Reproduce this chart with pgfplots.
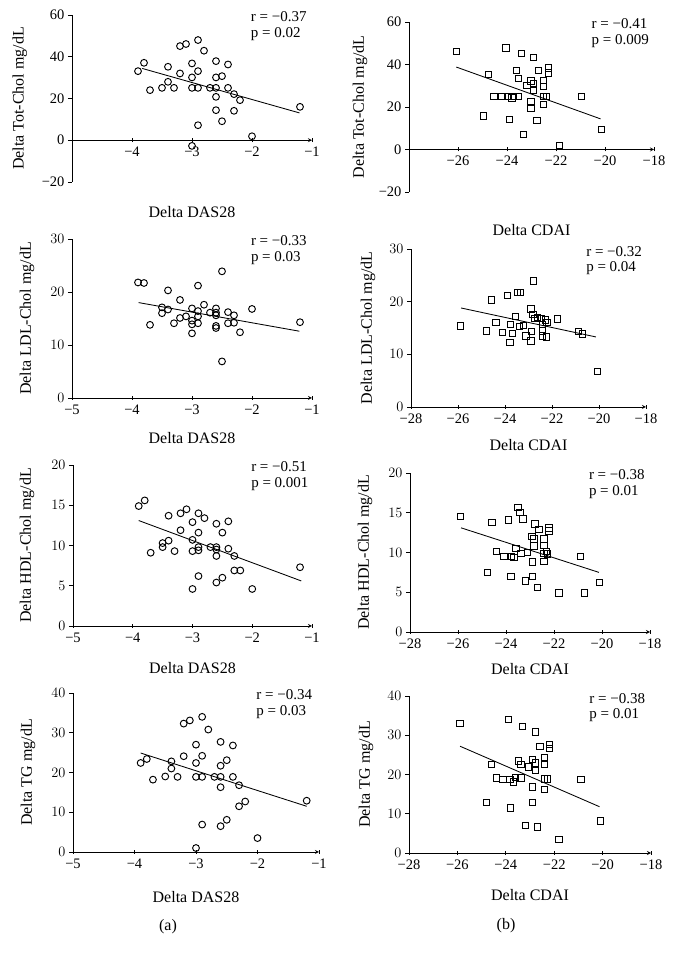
\documentclass[border=0pt]{standalone}
\usepackage{pgfplots}
\pgfplotsset{compat=1.18}
\usepackage{fontspec}
\setmainfont{Liberation Serif}
\newcommand{\lf}{\fontsize{16bp}{19bp}\selectfont}
\pgfplotsset{
  panel/.style={
    scale only axis, anchor=south west, clip=false,
    axis y line=left, axis line style={-, black, line width=0.8bp},
    tick align=outside, major tick length=4bp,
    tick style={black, line width=0.8bp},
    tick label style={font=\fontsize{14.5bp}{17bp}\selectfont},
    xticklabel style={yshift=-1bp},
    label style={font=\lf},
    ylabel style={anchor=center}, xlabel style={anchor=center},
  },
  circ/.style={only marks, mark=o, mark size=3.4bp, black, mark options={line width=0.95bp}},
  sq/.style={only marks, mark=square, mark size=3.2bp, black, mark options={line width=0.95bp}},
  reg/.style={black, line width=0.85bp, no marks},
}
\newcommand{\rp}[2]{\node[anchor=north west, inner sep=0pt, align=left, font=\fontsize{15bp}{15.5bp}\selectfont] at (axis description cs:0.745,1.02) {r = #1\\p = #2};}
\begin{document}
\begin{tikzpicture}
\path[use as bounding box] (0,0) rectangle (677bp,958bp);
% ---------- 1L
\begin{axis}[panel, at={(72bp,776bp)}, width=240bp, height=167bp,
  axis x line=middle, xmin=-5, xmax=-1, ymin=-20, ymax=60,
  xtick={-4,-3,-2,-1}, xticklabels={−4,−3,−2,−1},
  ytick={-20,0,20,40,60}, yticklabels={−20,0,20,40,60},
  xlabel={Delta DAS28}, ylabel={Delta Tot-Chol mg/dL},
  xlabel style={at={(axis description cs:0.5,-0.18)}, anchor=center, font=\lf},
  ylabel style={at={(axis description cs:-0.217,0.5)}}]
\addplot[circ] coordinates {(-3.9,33.1) (-3.8,37.1) (-3.7,24.0) (-3.5,25.1) (-3.4,35.2) (-3.4,28.0) (-3.3,25.1) (-3.2,32.0) (-3.2,45.1) (-3.1,46.1) (-3.0,36.8) (-3.0,30.1) (-3.0,25.1) (-3.0,-2.7) (-2.9,48.0) (-2.9,33.1) (-2.9,25.1) (-2.9,7.2) (-2.8,42.9) (-2.7,25.1) (-2.6,37.9) (-2.6,30.1) (-2.6,25.1) (-2.6,20.8) (-2.6,14.4) (-2.5,30.7) (-2.5,9.1) (-2.4,36.3) (-2.4,25.1) (-2.3,22.1) (-2.3,14.1) (-2.2,19.2) (-2.0,1.9) (-1.2,16.0)};
\addplot[reg] coordinates {(-3.83,34.4) (-1.21,13.1)};
\rp{−0.37}{0.02}
\end{axis}
% ---------- 1R
\begin{axis}[panel, at={(409bp,766bp)}, width=245bp, height=170bp,
  axis x line=middle, xmin=-28, xmax=-18, ymin=-20, ymax=60,
  xtick={-26,-24,-22,-20,-18}, xticklabels={−26,−24,−22,−20,−18},
  ytick={-20,0,20,40,60}, yticklabels={−20,0,20,40,60},
  xlabel={Delta CDAI}, ylabel={Delta Tot-Chol mg/dL},
  xlabel style={at={(axis description cs:0.5,-0.224)}, anchor=center, font=\lf},
  ylabel style={at={(axis description cs:-0.2,0.5)}}]
\addplot[sq] coordinates {(-26.07,46.2) (-24.95,15.7) (-24.75,35.3) (-24.53,25) (-24.22,25) (-24.04,47.7) (-23.94,25) (-23.9,14.1) (-23.8,24.2) (-23.73,25) (-23.61,37.2) (-23.52,33.3) (-23.52,25) (-23.42,45.1) (-23.33,7.1) (-23.19,30.2) (-23.02,32.2) (-23.02,22.6) (-23.02,19.2) (-22.91,43.2) (-22.91,30.9) (-22.91,28.1) (-22.77,13.7) (-22.72,37.2) (-22.51,32.5) (-22.51,29.7) (-22.51,25) (-22.51,21.2) (-22.4,25) (-22.31,38.3) (-22.31,36) (-21.87,1.9) (-20.95,25) (-20.15,9.3)};
\addplot[reg] coordinates {(-26.07,38.8) (-20.18,14.4)};
\rp{−0.41}{0.009}
\end{axis}
% ---------- 2L
\begin{axis}[panel, at={(72bp,560bp)}, width=240bp, height=159bp,
  axis x line=bottom, xmin=-5, xmax=-1, ymin=0, ymax=30,
  xtick={-5,-4,-3,-2,-1}, xticklabels={−5,−4,−3,−2,−1},
  ytick={0,10,20,30},
  xlabel={Delta DAS28}, ylabel={Delta LDL-Chol mg/dL},
  xlabel style={at={(axis description cs:0.5,-0.25)}},
  ylabel style={at={(axis description cs:-0.1875,0.5)}}]
\addplot[circ] coordinates {(-3.9,21.8) (-3.8,21.7) (-3.7,13.8) (-3.5,17.1) (-3.5,16.0) (-3.4,20.3) (-3.4,16.7) (-3.3,14.1) (-3.2,18.5) (-3.2,15.1) (-3.1,15.4) (-3.0,16.9) (-3.0,14.6) (-3.0,13.9) (-3.0,12.2) (-2.9,21.2) (-2.9,16.4) (-2.9,15.4) (-2.9,14.1) (-2.8,17.6) (-2.7,16.1) (-2.6,16.9) (-2.6,16.1) (-2.6,15.6) (-2.6,13.6) (-2.6,13.2) (-2.5,23.9) (-2.5,6.9) (-2.4,16.2) (-2.4,14.1) (-2.3,15.6) (-2.3,14.2) (-2.2,12.4) (-2.0,16.8) (-1.2,14.3)};
\addplot[reg] coordinates {(-3.89,18.0) (-1.21,12.6)};
\rp{−0.33}{0.03}
\end{axis}
% ---------- 2R
\begin{axis}[panel, at={(411bp,551bp)}, width=235bp, height=158bp,
  axis x line=bottom, xmin=-28, xmax=-18, ymin=0, ymax=30,
  xtick={-28,-26,-24,-22,-20,-18}, xticklabels={−28,−26,−24,−22,−20,−18},
  ytick={0,10,20,30},
  xlabel={Delta CDAI}, ylabel={Delta LDL-Chol mg/dL},
  xlabel style={at={(axis description cs:0.5,-0.24)}},
  ylabel style={at={(axis description cs:-0.183,0.5)}}]
\addplot[sq] coordinates {(-25.9,15.4) (-24.78,14.4) (-24.58,20.3) (-24.38,16.1) (-24.1,14.2) (-23.89,21.2) (-23.79,12.2) (-23.77,15.7) (-23.69,14.0) (-23.56,17.2) (-23.46,21.8) (-23.35,21.8) (-23.39,15.3) (-23.21,15.5) (-23.11,13.5) (-22.89,18.6) (-22.89,12.5) (-22.87,14.3) (-22.81,17.6) (-22.78,23.9) (-22.75,16.8) (-22.61,17.0) (-22.44,16.8) (-22.41,15.7) (-22.41,14.4) (-22.41,13.5) (-22.27,16.5) (-22.24,13.3) (-22.21,16.0) (-21.76,16.7) (-20.88,14.3) (-20.7,13.9) (-20.06,6.8)};
\addplot[reg] coordinates {(-25.87,18.8) (-20.13,13.3)};
\rp{−0.32}{0.04}
\end{axis}
% ---------- 3L
\begin{axis}[panel, at={(73bp,332bp)}, width=239bp, height=161bp,
  axis x line=bottom, xmin=-5, xmax=-1, ymin=0, ymax=20,
  xtick={-5,-4,-3,-2,-1}, xticklabels={−5,−4,−3,−2,−1},
  ytick={0,5,10,15,20},
  xlabel={Delta DAS28}, ylabel={Delta HDL-Chol mg/dL},
  xlabel style={at={(axis description cs:0.5,-0.26)}},
  ylabel style={at={(axis description cs:-0.192,0.5)}}]
\addplot[circ] coordinates {(-3.9,14.9) (-3.8,15.6) (-3.7,9.1) (-3.5,10.3) (-3.5,9.8) (-3.4,10.6) (-3.4,13.7) (-3.3,9.3) (-3.2,14.0) (-3.2,11.9) (-3.1,14.5) (-3.0,12.9) (-3.0,10.7) (-3.0,9.3) (-3.0,4.6) (-2.9,14.0) (-2.9,11.6) (-2.9,9.8) (-2.9,9.4) (-2.9,6.2) (-2.8,13.4) (-2.7,9.8) (-2.6,12.7) (-2.6,9.8) (-2.6,9.5) (-2.6,8.7) (-2.6,5.4) (-2.5,11.6) (-2.5,6.0) (-2.4,13.0) (-2.4,9.6) (-2.3,8.7) (-2.3,6.9) (-2.2,6.9) (-2.0,4.6) (-1.2,7.3)};
\addplot[reg] coordinates {(-3.9,13.1) (-1.18,5.6)};
\rp{−0.51}{0.001}
\end{axis}
% ---------- 3R
\begin{axis}[panel, at={(410bp,326bp)}, width=240bp, height=159bp,
  axis x line=bottom, xmin=-28, xmax=-18, ymin=0, ymax=20,
  xtick={-28,-26,-24,-22,-20,-18}, xticklabels={−28,−26,−24,−22,−20,−18},
  ytick={0,5,10,15,20},
  xlabel={Delta CDAI}, ylabel={Delta HDL-Chol mg/dL},
  xlabel style={at={(axis description cs:0.5,-0.233)}},
  ylabel style={at={(axis description cs:-0.1875,0.5)}}]
\addplot[sq] coordinates {(-25.9,14.5) (-24.78,7.5) (-24.59,13.8) (-24.39,10.1) (-24.08,9.5) (-23.9,14.1) (-23.8,7.0) (-23.76,9.5) (-23.66,9.4) (-23.59,10.5) (-23.5,15.7) (-23.41,15.0) (-23.38,9.9) (-23.29,14.2) (-23.2,6.4) (-23.1,10.0) (-22.91,12.0) (-22.9,8.8) (-22.9,7.0) (-22.83,11.7) (-22.83,10.8) (-22.8,13.6) (-22.7,5.6) (-22.62,12.9) (-22.41,11.7) (-22.41,10.9) (-22.41,9.9) (-22.41,8.9) (-22.31,10.1) (-22.27,9.8) (-22.21,13.1) (-22.21,12.7) (-21.79,4.9) (-20.9,9.5) (-20.73,4.9) (-20.1,6.2)};
\addplot[reg] coordinates {(-25.87,13.1) (-20.13,7.5)};
\rp{−0.38}{0.01}
\end{axis}
% ---------- 4L
\begin{axis}[panel, at={(73bp,106bp)}, width=246bp, height=159bp,
  axis x line=bottom, xmin=-5, xmax=-1, ymin=0, ymax=40,
  xtick={-5,-4,-3,-2,-1}, xticklabels={−5,−4,−3,−2,−1},
  ytick={0,10,20,30,40},
  xlabel={Delta DAS28}, ylabel={Delta TG mg/dL},
  xlabel style={at={(axis description cs:0.5,-0.283)}},
  ylabel style={at={(axis description cs:-0.183,0.5)}}]
\addplot[circ] coordinates {(-3.9,22.4) (-3.8,23.4) (-3.7,18.2) (-3.5,19.0) (-3.4,22.8) (-3.4,21.0) (-3.3,18.9) (-3.2,24.1) (-3.2,32.3) (-3.1,33.1) (-3.0,27.0) (-3.0,22.4) (-3.0,18.9) (-3.0,1.0) (-2.9,34.0) (-2.9,24.2) (-2.9,18.9) (-2.9,6.9) (-2.8,30.8) (-2.7,18.9) (-2.6,27.7) (-2.6,21.7) (-2.6,18.9) (-2.6,16.3) (-2.6,6.5) (-2.5,23.1) (-2.5,8.1) (-2.4,26.8) (-2.4,18.9) (-2.3,16.8) (-2.3,11.5) (-2.2,12.7) (-2.0,3.5) (-1.2,12.9)};
\addplot[reg] coordinates {(-3.9,24.9) (-1.2,11.5)};
\rp{−0.34}{0.03}
\end{axis}
% ---------- 4R
\begin{axis}[panel, at={(409bp,105bp)}, width=242bp, height=157bp,
  axis x line=bottom, xmin=-28, xmax=-18, ymin=0, ymax=40,
  xtick={-28,-26,-24,-22,-20,-18}, xticklabels={−28,−26,−24,−22,−20,−18},
  ytick={0,10,20,30,40},
  xlabel={Delta CDAI}, ylabel={Delta TG mg/dL},
  xlabel style={at={(axis description cs:0.5,-0.267)}},
  ylabel style={at={(axis description cs:-0.178,0.5)}}]
\addplot[sq] coordinates {(-25.89,33.0) (-24.81,12.8) (-24.6,22.5) (-24.39,19.1) (-24.11,18.8) (-23.89,34.0) (-23.81,11.5) (-23.83,18.8) (-23.69,18.1) (-23.61,19.2) (-23.47,23.4) (-23.38,22.5) (-23.38,19.1) (-23.31,32.3) (-23.19,7.0) (-23.06,21.9) (-22.89,23.9) (-22.89,16.8) (-22.89,12.8) (-22.78,30.8) (-22.78,22.9) (-22.78,21.1) (-22.69,6.6) (-22.58,27.2) (-22.39,24.3) (-22.39,22.5) (-22.39,16.2) (-22.39,18.9) (-22.28,18.9) (-22.19,27.7) (-22.19,26.6) (-21.81,3.5) (-20.89,18.7) (-20.1,8.2)};
\addplot[reg] coordinates {(-25.89,27.2) (-20.13,11.8)};
\rp{−0.38}{0.01}
\end{axis}
\node[font=\lf] at (168bp,31bp) {(a)};
\node[font=\lf] at (506bp,32bp) {(b)};
\end{tikzpicture}
\end{document}
